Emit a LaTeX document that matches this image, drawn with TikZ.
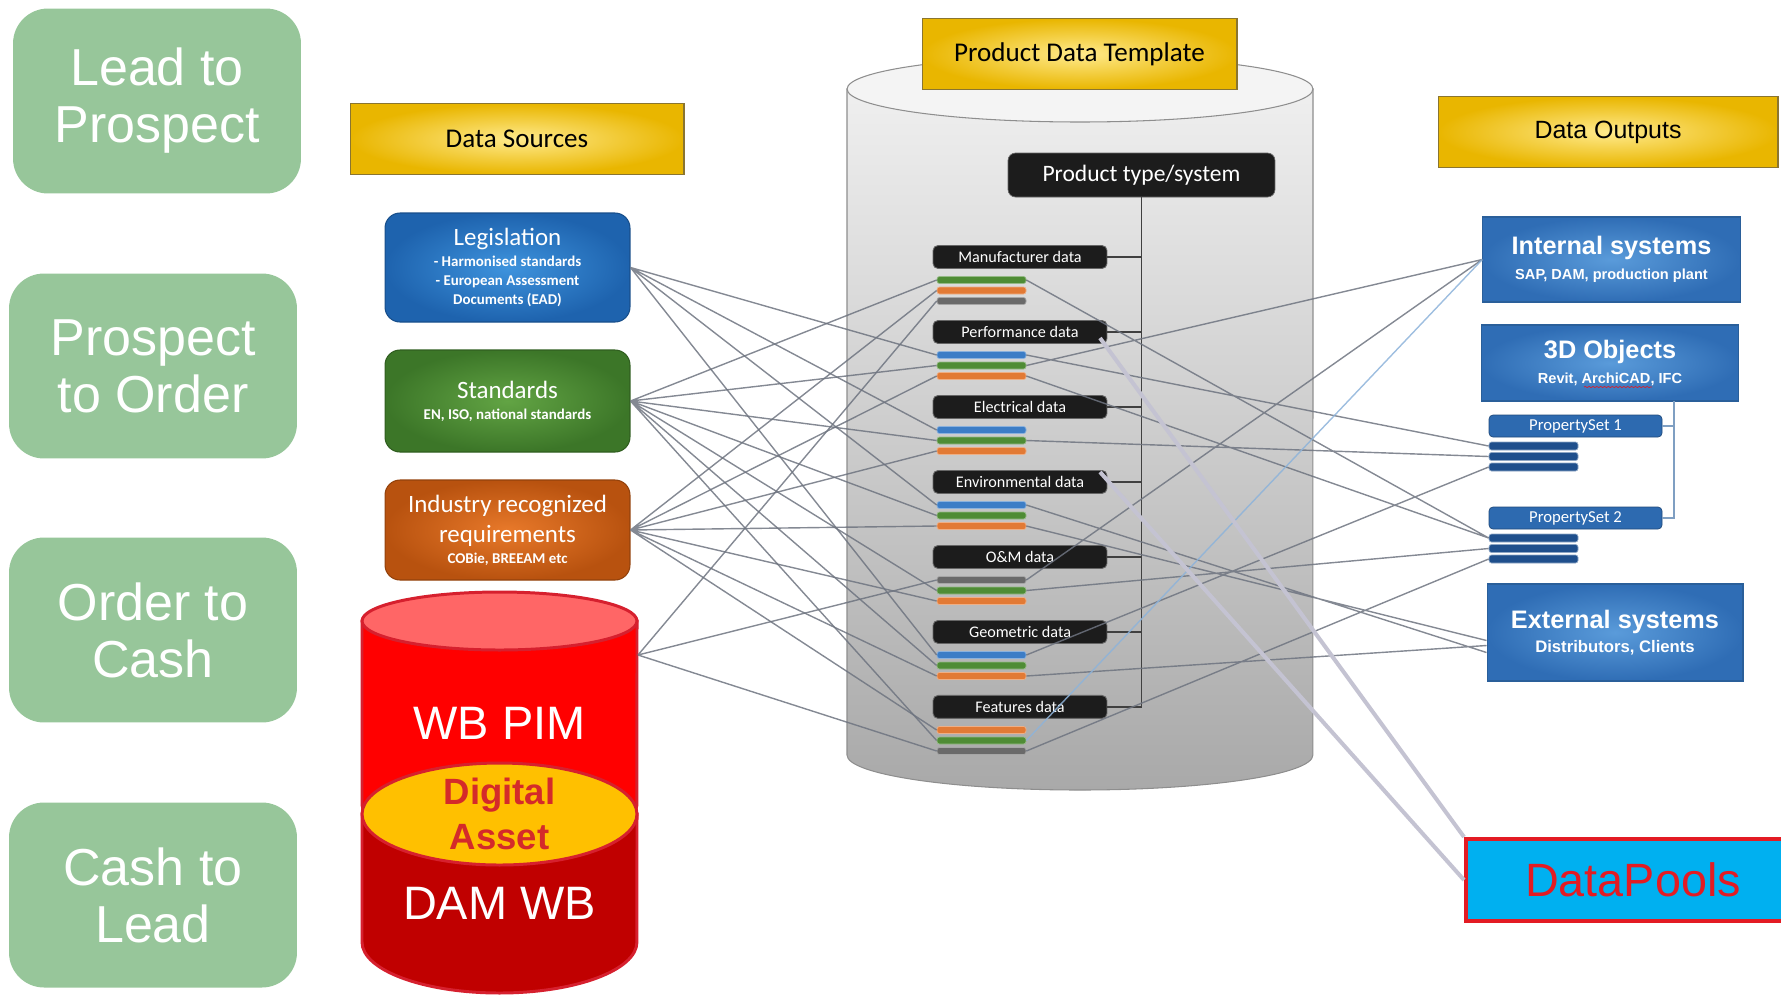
\documentclass[tikz,border=0pt]{standalone}
\usepackage{fontspec}
\setmainfont{Liberation Sans}
\newfontfamily\carlito{Carlito}
\usetikzlibrary{decorations.pathmorphing}
\definecolor{sage}{HTML}{97C69A}
\definecolor{goldL}{HTML}{FFEA8C}
\definecolor{goldD}{HTML}{E9B600}
\definecolor{goldB}{HTML}{8A7530}
\definecolor{legL}{HTML}{3E93DD}
\definecolor{legD}{HTML}{1E63AE}
\definecolor{stdL}{HTML}{62A444}
\definecolor{stdD}{HTML}{3C7628}
\definecolor{indL}{HTML}{E8792A}
\definecolor{indD}{HTML}{B8520F}
\definecolor{outL}{HTML}{5A9BDA}
\definecolor{outD}{HTML}{2F6DB5}
\definecolor{outB}{HTML}{2A5F9A}
\definecolor{psB}{HTML}{2D6AB0}
\definecolor{psbar}{HTML}{1F4F8C}
\definecolor{cylT}{HTML}{EFEFEF}
\definecolor{cylB}{HTML}{A9A9A9}
\definecolor{cylE}{HTML}{F4F4F4}
\definecolor{cylR}{HTML}{8E8E8E}
\definecolor{lab}{HTML}{1C1C1C}
\definecolor{barG}{HTML}{4F8C35}
\definecolor{barO}{HTML}{E27A35}
\definecolor{barB}{HTML}{3C7DC6}
\definecolor{barK}{HTML}{6A6A6A}
\definecolor{wirec}{HTML}{6E7480}
\definecolor{skyw}{HTML}{8DB3DA}
\definecolor{lilac}{HTML}{C4C3D2}
\definecolor{pimR}{HTML}{FF0000}
\definecolor{pimT}{HTML}{FF6666}
\definecolor{damR}{HTML}{C00000}
\definecolor{redB}{HTML}{D6202E}
\definecolor{amber}{HTML}{FFC000}
\definecolor{txtR}{HTML}{D42A2A}
\definecolor{poolC}{HTML}{00B0F0}
\definecolor{poolR}{HTML}{E31B23}
\begin{document}
\begin{tikzpicture}[x=0.02cm,y=-0.02cm,node distance=1.5cm,
  stage/.style={fill=sage,rounded corners=0.7cm,minimum width=5.76cm,minimum height=3.7cm,text=white,align=center,font=\fontsize{29.6}{32.4}\selectfont},
  banner/.style={draw=goldB,line width=0.6pt,inner color=goldL,outer color=goldD,minimum height=1.41cm},
  source/.style={draw=#1D!80!black,line width=0.6pt,inner color=#1L,outer color=#1D,rounded corners=0.3cm,minimum width=4.9cm,text=white,align=center,font=\carlito\bfseries\fontsize{8.5}{11}\selectfont},
  tag/.style={fill=lab,draw=black!60,line width=0.5pt,rounded corners=0.1cm,minimum width=3.48cm,minimum height=0.46cm,inner sep=0pt,text=white,font=\carlito\fontsize{9.2}{10}\selectfont},
  strip/.style={fill=#1,draw=#1!60!white,line width=0.4pt,rounded corners=0.05cm,minimum width=1.78cm,minimum height=0.14cm,inner sep=0pt},
  output/.style={draw=outB,line width=0.6pt,inner color=outL,outer color=outD,minimum width=5.15cm,text=white,align=center,font=\bfseries},
  pset/.style={fill=psB,draw=psB!70!black,rounded corners=0.08cm,minimum width=3.46cm,minimum height=0.44cm,inner sep=0pt,text=white,font=\carlito\fontsize{9.5}{10}\selectfont},
  pstrip/.style={fill=psbar,draw=psbar!50!white,line width=0.4pt,rounded corners=0.05cm,minimum width=1.78cm,minimum height=0.16cm,inner sep=0pt},
  wire/.style={draw=wirec,line width=0.8pt,opacity=0.85},
  trunk/.style={draw=black!75,line width=0.8pt}]
\useasboundingbox (0,0) rectangle (1781,995);

\draw[cylR,line width=0.6pt,top color=cylT,bottom color=cylB] (847,89) -- (847,755) arc[start angle=180,end angle=360,x radius=4.66cm,y radius=0.7cm] -- (1313,89) -- cycle;
\draw[cylR,line width=0.6pt,fill=cylE] (1080,89) ellipse [x radius=4.66cm,y radius=0.66cm];

\node[banner,minimum width=6.68cm,font=\carlito\fontsize{15.4}{18}\selectfont] (src) at (517,139) {Data Sources};
\node[banner,minimum width=6.3cm,font=\carlito\fontsize{15.4}{18}\selectfont] (pdt) at (1079.5,54) {Product Data Template};
\node[banner,minimum width=6.8cm,font=\fontsize{14.2}{17}\selectfont] (out) at (1608,132) {Data Outputs};

\node[stage] (lead) at (157,101) {Lead to\\Prospect};
\node[stage] (prosp) at (153,366) {Prospect\\to Order};
\node[stage] (order) at (153,630) {Order to\\Cash};
\node[stage] (cash) at (153,895) {Cash to\\Lead};

\node[source=leg,minimum height=2.18cm] (leg) at (507.5,267.5) {\mdseries\fontsize{14.2}{16}\selectfont Legislation\\[1pt]
  - Harmonised standards\\ - European Assessment\\ Documents (EAD)};
\node[source=std,minimum height=2.04cm] (std) at (507.5,401) {\mdseries\fontsize{14.2}{16}\selectfont Standards\\[1pt]
  EN, ISO, national standards};
\node[source=ind,minimum height=2.0cm] (ind) at (507.5,530) {\mdseries\fontsize{14.2}{17}\selectfont Industry recognized\\[4pt]
  \mdseries\fontsize{14.2}{17}\selectfont requirements\\[1pt] COBie, BREEAM etc};

\draw[redB,line width=1.7pt,fill=pimR] (362,621) -- (362,805) arc[start angle=180,end angle=360,x radius=2.75cm,y radius=0.58cm] -- (637,621) -- cycle;
\draw[redB,line width=1.7pt,fill=pimT] (499.5,621) ellipse [x radius=2.75cm,y radius=0.58cm];
\draw[redB,line width=1.7pt,fill=damR] (362,814) -- (362,942) arc[start angle=180,end angle=360,x radius=2.75cm,y radius=1.02cm] -- (637,814) -- cycle;
\draw[redB,line width=1.7pt,fill=amber] (499.5,814) ellipse [x radius=2.75cm,y radius=1.02cm];
\node[text=white,font=\fontsize{26.7}{30}\selectfont] (pim) at (499.5,723) {WB PIM};
\node[text=txtR,align=center,font=\bfseries\fontsize{20.8}{25.6}\selectfont] (dig) at (499.5,814) {Digital\\Asset};
\node[text=white,font=\fontsize{26.7}{30}\selectfont] (dam) at (499.5,903) {DAM WB};
\coordinate (pimout) at (638,655);

\node[fill=lab,draw=black!60,rounded corners=0.15cm,minimum width=5.34cm,minimum height=0.88cm,text=white,font=\carlito\fontsize{13.4}{15}\selectfont] (type) at (1141.5,175) {Product type/system};
\node[tag] (m) at (1020,257) {Manufacturer data};
\node[tag,below of=m] (p) {Performance data};
\node[tag,below of=p] (e) {Electrical data};
\node[tag,below of=e] (v) {Environmental data};
\node[tag,below of=v] (o) {O\&M data};
\node[tag,below of=o] (g) {Geometric data};
\node[tag,below of=g] (f) {Features data};
\draw[trunk] (type.south) |- (f.east);
\draw[trunk] (m.east) -- (m.east -| type.south);
\draw[trunk] (p.east) -- (p.east -| type.south);
\draw[trunk] (e.east) -- (e.east -| type.south);
\draw[trunk] (v.east) -- (v.east -| type.south);
\draw[trunk] (o.east) -- (o.east -| type.south);
\draw[trunk] (g.east) -- (g.east -| type.south);

\node[strip=barG] (m1) at (981.5,280) {};
\node[strip=barO] (m2) at (981.5,290.5) {};
\node[strip=barK] (m3) at (981.5,301) {};
\node[strip=barB] (p1) at (981.5,355) {};
\node[strip=barG] (p2) at (981.5,365.5) {};
\node[strip=barO] (p3) at (981.5,376) {};
\node[strip=barB] (e1) at (981.5,430) {};
\node[strip=barG] (e2) at (981.5,440.5) {};
\node[strip=barO] (e3) at (981.5,451) {};
\node[strip=barB] (v1) at (981.5,505) {};
\node[strip=barG] (v2) at (981.5,515.5) {};
\node[strip=barO] (v3) at (981.5,526) {};
\node[strip=barK] (o1) at (981.5,580) {};
\node[strip=barG] (o2) at (981.5,590.5) {};
\node[strip=barO] (o3) at (981.5,601) {};
\node[strip=barB] (g1) at (981.5,655) {};
\node[strip=barG] (g2) at (981.5,665.5) {};
\node[strip=barO] (g3) at (981.5,676) {};
\node[strip=barO] (f1) at (981.5,730) {};
\node[strip=barG] (f2) at (981.5,740.5) {};
\node[strip=barK] (f3) at (981.5,751) {};

\node[output,minimum height=1.7cm] (int) at (1611.5,259.5) {\fontsize{14.4}{17}\selectfont Internal systems\\[2pt] \fontsize{8.3}{10}\selectfont SAP, DAM, production plant};
\node[output,minimum height=1.52cm] (obj) at (1610,363) {\fontsize{14.4}{17}\selectfont 3D Objects\\[2pt] \fontsize{8.3}{10}\selectfont Revit, ArchiCAD, IFC};
\draw[redB,line width=0.4pt,decorate,decoration={snake,amplitude=0.35pt,segment length=2.2pt}] (1584,387) -- (1652,387);
\node[pset] (ps1) at (1575.5,426) {PropertySet 1};
\node[pset] (ps2) at (1575.5,518) {PropertySet 2};
\node[pstrip] (s1a) at (1533.5,446) {};
\node[pstrip] (s1b) at (1533.5,456.5) {};
\node[pstrip] (s1c) at (1533.5,467) {};
\node[pstrip] (s2a) at (1533.5,538) {};
\node[pstrip] (s2b) at (1533.5,548.5) {};
\node[pstrip] (s2c) at (1533.5,559) {};
\coordinate (brk) at (1674,401);
\draw[outB!60,line width=0.6pt] (ps2.east) -| (brk);
\draw[outB!60,line width=0.6pt] (ps1.east) -- (ps1.east -| brk);
\node[output,minimum height=1.94cm,minimum width=5.12cm] (ext) at (1615,632.5) {\fontsize{14.4}{17}\selectfont External systems\\[2pt] \fontsize{9.5}{11}\selectfont Distributors, Clients};

\draw[wire] (leg.east) -- (p1.west) (leg.east) -- (e1.west) (leg.east) -- (v1.west) (leg.east) -- (g1.west);
\draw[wire] (std.east) -- (m1.west) (std.east) -- (p2.west) (std.east) -- (e2.west) (std.east) -- (v2.west)
  (std.east) -- (o2.west) (std.east) -- (g2.west) (std.east) -- (f2.west);
\draw[wire] (ind.east) -- (m2.west) (ind.east) -- (p3.west) (ind.east) -- (e3.west) (ind.east) -- (v3.west)
  (ind.east) -- (o3.west) (ind.east) -- (g3.west) (ind.east) -- (f1.west);
\draw[wire] (pimout) -- (m3.west) (pimout) -- (o1.west) (pimout) -- (f3.west);
\draw[wire] (m1.east) -- (s2a.west) (p1.east) -- (s1a.west) (p2.east) -- (int.west) (p3.east) -- (s2a.west)
  (e2.east) -- (s1b.west) (v1.east) -- ([yshift=-0.4cm]ext.west) (v3.east) -- ([yshift=-0.16cm]ext.west)
  (o1.east) -- (int.west) (o2.east) -- (s2b.west) (g1.east) -- (s1c.west) (g3.east) -- ([yshift=-0.26cm]ext.west)
  (f3.east) -- (s2c.west);
\draw[wire,draw=skyw] (f2.east) -- (int.west);

\node[fill=poolC,draw=poolR,line width=2.3pt,minimum width=6.68cm,minimum height=1.64cm,text=poolR,font=\fontsize{26.6}{30}\selectfont] (pools) at (1633,880) {DataPools};
\coordinate (pa) at (1100,338);
\coordinate (pb) at (1100,472);
\draw[lilac,line width=2.3pt] (pa) -- (pools.north west);
\draw[lilac,line width=2.3pt] (pb) -- (pools.west);
\end{tikzpicture}
\end{document}
